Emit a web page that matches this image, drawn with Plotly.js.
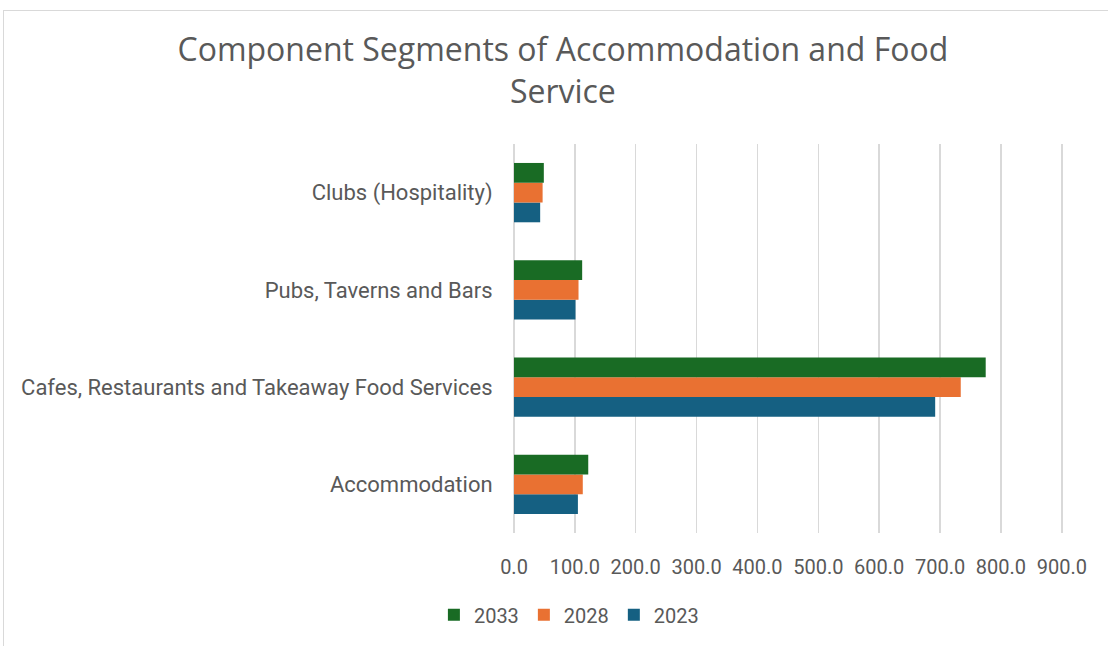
<!DOCTYPE html>
<html>
<head>
<meta charset="utf-8">
<script src="https://cdn.plot.ly/plotly-3.0.1.min.js"></script>
<style>
  body { margin: 0; background: #fff; }
  #chart { position: absolute; left: 0; top: 0; width: 1108px; height: 646px; }
  #frame { position: absolute; left: 3px; top: 10px; width: 1105px; height: 636px;
           border-top: 1px solid #d9d9d9; border-left: 1px solid #d9d9d9; pointer-events: none; }
</style>
</head>
<body>
<div id="chart"></div>
<div id="frame"></div>
<script>
// categories, bottom to top as plotted
var categories = ['Accommodation', 'Cafes, Restaurants and Takeaway Food Services', 'Pubs, Taverns and Bars', 'Clubs (Hospitality)'];

// series values
var years = ['2023', '2028', '2033'];
var values2023 = [105, 692, 101, 43];
var values2028 = [113, 734, 106, 47];
var values2033 = [122, 775, 112, 49];

var colors = ['#156082', '#e97132', '#196b24'];
var series = [values2023, values2028, values2033];

var fontFamily = 'Roboto, "Liberation Sans", Arial, sans-serif';

// data
var data = [];
for (var i = 0; i < years.length; i++) {
    data.push({
        type: 'bar',
        orientation: 'h',
        name: years[i],
        y: categories,
        x: series[i],
        marker: { color: colors[i] },
        hoverinfo: 'x+name'
    });
}

// layout
var layout = {
    width: 1108,
    height: 646,
    paper_bgcolor: '#ffffff',
    plot_bgcolor: '#ffffff',
    margin: { l: 514, r: 45, t: 144, b: 109 },
    title: {
        text: 'Component Segments of Accommodation and Food<br>Service',
        font: { family: '"Open Sans", sans-serif', size: 32, color: '#595959' },
        x: 0.508,
        xanchor: 'center',
        y: 0.905,
        yanchor: 'top'
    },
    barmode: 'group',
    bargap: 0.39,
    bargroupgap: 0,
    xaxis: {
        range: [0, 902],
        tick0: 0,
        dtick: 100,
        tickformat: '.1f',
        showgrid: true,
        gridcolor: '#d9d9d9',
        gridwidth: 1.5,
        zeroline: true,
        zerolinecolor: '#d9d9d9',
        zerolinewidth: 1.5,
        showline: false,
        ticks: 'outside',
        ticklen: 16,
        tickcolor: 'rgba(0,0,0,0)',
        tickfont: { family: fontFamily, size: 20, color: '#595959' },
        fixedrange: true
    },
    yaxis: {
        type: 'category',
        showgrid: false,
        showline: false,
        zeroline: false,
        ticks: 'outside',
        ticklen: 16,
        tickcolor: 'rgba(0,0,0,0)',
        tickfont: { family: fontFamily, size: 22, color: '#595959' },
        fixedrange: true
    },
    showlegend: true,
    legend: {
        orientation: 'h',
        traceorder: 'reversed',
        x: 0.1,
        xanchor: 'center',
        y: -0.16,
        yanchor: 'top',
        font: { family: fontFamily, size: 20, color: '#595959' },
        itemwidth: 30
    }
};

// create plot
Plotly.newPlot('chart', data, layout, { displayModeBar: false, staticPlot: true });
</script>
</body>
</html>
